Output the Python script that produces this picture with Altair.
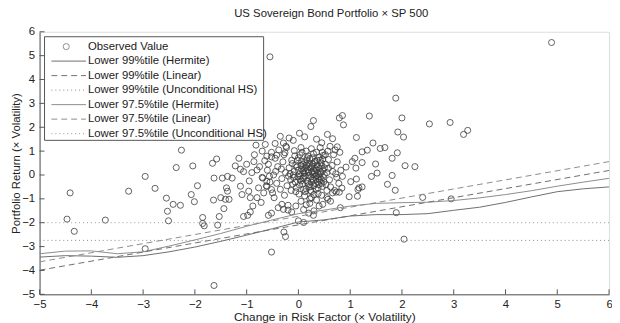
import altair as alt
import pandas as pd

# ---------------- data ----------------
observed = [
    # outer / right side
    (4.89, 5.55), (-0.55, 4.95), (2.53, 2.14), (2.93, 2.20), (3.19, 1.70), (3.27, 1.87),
    (2.25, 0.35), (2.04, -2.69), (2.40, -0.94), (2.95, -1.00), (1.89, -1.58), (1.72, -0.39),
    (1.87, -0.64), (0.81, -1.37), (0.29, -1.69), (0.10, -1.99), (0.00, -1.92), (1.15, -0.61),
    (1.23, -0.50), (0.98, -0.91), (0.79, -0.72), (0.73, -0.72),
    (1.88, 3.22), (2.00, 2.39), (1.92, 1.80), (2.03, 1.59), (1.37, 2.47), (0.85, 2.49),
    (0.79, 2.39), (0.87, 2.10), (0.29, 2.28), (0.24, 2.03), (1.12, 1.57), (0.56, 1.70),
    (0.66, 1.52), (0.75, 1.18), (1.44, 1.34), (1.58, 1.11), (1.67, 1.15), (1.33, 1.04),
    (1.23, 0.97), (1.91, 0.93), (1.81, 0.70), (1.49, 0.46), (2.06, 0.39), (1.09, 0.70),
    (1.04, 0.56), (1.23, 0.52), (1.11, 0.29), (0.92, 0.33), (1.52, 0.08), (1.41, -0.06),
    (1.81, -0.02), (1.12, -0.17), (1.01, -0.28), (0.85, -0.06), (1.17, -0.54), (1.14, -0.89),
    (0.66, -0.75), (0.22, -1.19), (0.47, -1.23), (0.57, -1.02),
    # left-centre
    (-0.82, 1.25), (-0.64, 1.28), (-0.45, 1.32), (-0.29, 1.34), (-0.10, 1.45), (-2.04, 0.38),
    (-2.28, -1.27), (-1.58, 0.67), (-1.66, 0.49), (-1.15, 0.70), (-1.22, 0.38), (-1.12, 0.24),
    (-1.06, 0.14), (-0.86, 0.56), (-0.80, 0.21), (-0.61, 0.79), (-0.52, 0.76), (-0.42, 0.83),
    (-0.26, 0.93), (-0.23, 1.15), (-1.63, -0.13), (-1.47, -0.13), (-1.37, -0.06), (-1.28, -0.13),
    (-1.95, -0.45), (-2.07, -0.82), (-2.01, -1.12), (-1.64, -1.05), (-1.50, -0.95), (-1.39, -0.54),
    (-1.37, -0.68), (-1.41, -1.02), (-1.34, -1.02), (-1.44, -1.41), (-1.53, -1.74), (-1.85, -1.78),
    (-1.85, -2.03), (-1.82, -2.13), (-1.56, -2.10), (-1.12, -0.47), (-1.09, -0.82), (-0.96, -0.68),
    (-0.93, -0.95), (-0.77, -0.54), (-0.67, -0.75), (-0.88, -1.30), (-0.98, -1.69), (-0.93, -1.55),
    (-0.58, -1.69), (-0.52, -1.60), (-0.39, -1.37), (-0.29, -1.44), (-0.20, -1.27), (-0.13, -1.55),
    (-0.28, -2.39), (-0.25, -2.58), (-0.69, -0.13), (-0.61, -0.27), (-0.61, -0.48), (-0.52, -0.61),
    (-1.63, -4.63), (-0.52, -3.23), (-1.06, -1.74), (-0.32, -1.23), (-0.20, -1.47),
    # far left
    (-4.41, -0.75), (-4.47, -1.85), (-4.33, -2.36), (-3.73, -1.89), (-3.28, -0.68), (-2.96, -0.06),
    (-2.77, -0.56), (-2.55, -0.97), (-2.53, -1.52), (-2.51, -1.92), (-2.42, -1.23), (-2.36, 0.31),
    (-2.26, 1.04), (-2.96, -3.09),
    # dense core
    (0.02, 0.05), (0.10, -0.12), (0.18, 0.22), (0.25, -0.30), (0.31, 0.10), (0.38, 0.35),
    (0.05, 0.40), (-0.08, 0.15), (-0.15, -0.20), (0.12, 0.55), (0.22, 0.68), (0.33, -0.05),
    (0.41, -0.22), (0.47, 0.18), (0.08, -0.38), (-0.04, -0.52), (0.15, -0.58), (0.28, 0.45),
    (0.36, 0.62), (-0.12, 0.48), (0.00, 0.72), (0.20, -0.02), (0.26, 0.12), (0.44, 0.50),
    (-0.18, 0.30), (0.06, 0.25), (0.14, 0.32), (0.30, -0.45), (0.39, -0.40), (0.48, -0.10),
    (-0.06, -0.30), (0.11, 0.08), (0.17, -0.25), (0.24, 0.30), (0.35, 0.20), (0.03, -0.18),
    (-0.10, 0.00), (0.42, 0.05), (0.50, 0.30), (0.19, 0.80), (0.29, 0.90), (0.07, 0.95),
    (-0.02, 0.60), (0.40, 0.75), (0.46, 0.95), (0.13, -0.70), (0.23, -0.65), (0.34, -0.60),
    (-0.14, -0.65), (0.01, -0.80), (0.27, -0.15), (0.09, 0.17), (0.16, 0.42), (0.32, 0.28),
    (-0.03, 0.33), (0.21, -0.40), (0.37, -0.28), (0.04, -0.05), (-0.09, -0.10), (0.45, -0.35),
    (0.00, 0.20), (0.05, -0.25), (0.09, 0.45), (0.13, -0.05), (0.16, 0.62), (0.19, 0.10),
    (0.22, -0.50), (0.26, 0.38), (0.29, -0.22), (0.32, 0.58), (0.35, -0.02), (0.38, -0.55),
    (0.41, 0.27), (0.44, -0.18), (0.47, 0.66), (0.50, 0.02), (0.02, -0.42), (0.06, 0.58),
    (0.10, -0.60), (0.14, 0.15), (0.18, -0.35), (0.21, 0.48), (0.24, -0.08), (0.27, 0.72),
    (0.30, 0.18), (0.33, -0.35), (0.36, 0.42), (0.40, -0.08), (0.43, 0.12), (0.46, -0.48),
    (-0.01, -0.08), (0.03, 0.85), (0.08, -0.15), (0.12, 0.28), (0.17, 0.72), (0.20, 0.35),
    (0.25, -0.70), (0.28, 0.02), (0.31, 0.52), (0.34, -0.18), (0.37, 0.08), (0.42, 0.62),
    (0.45, 0.38), (0.49, -0.28), (-0.05, 0.42), (-0.11, -0.38), (-0.16, 0.05), (-0.07, 0.80),
    (-0.13, 0.62), (-0.19, -0.05), (0.15, 1.00), (0.25, 1.10), (0.35, 0.95), (0.05, 1.15),
    (-0.08, 1.02), (0.42, 1.15), (0.52, 0.85), (0.55, -0.65), (0.12, -0.88), (0.30, -0.82),
    (-0.05, -0.70), (0.22, -1.00), (0.38, -0.78), (0.48, 0.82), (0.58, 0.28),
    # right of core
    (0.55, 0.10), (0.60, -0.20), (0.65, 0.40), (0.72, 0.05), (0.78, -0.35), (0.58, 0.65),
    (0.68, 0.85), (0.75, 0.55), (0.82, 0.20), (0.62, -0.50), (0.70, -0.65), (0.53, -0.40),
    (0.57, 1.00), (0.80, 0.95), (0.66, 0.15), (0.52, 0.45), (0.74, -0.10), (0.84, -0.55),
    (0.61, 1.20), (0.71, 1.05),
    # left of core
    (-0.25, 0.10), (-0.32, -0.15), (-0.40, 0.35), (-0.48, 0.00), (-0.55, -0.30), (-0.30, 0.55),
    (-0.45, 0.70), (-0.58, 0.45), (-0.22, -0.45), (-0.35, -0.60), (-0.50, -0.75), (-0.28, 0.85),
    (-0.38, 1.05), (-0.52, 0.95), (-0.42, -0.35), (-0.60, 0.20), (-0.27, -0.85), (-0.47, -0.95),
    (-0.33, 0.25), (-0.56, -0.05), (-0.24, 1.20), (-0.44, 0.15),
    # mid density ring
    (-0.75, 0.35), (-0.70, -0.10), (-0.90, 0.10), (-0.95, -0.25), (-0.80, -0.95), (-0.72, -1.15),
    (-0.65, 0.60), (-1.00, 0.45), (-0.85, 0.85), (-0.70, 1.00), (-0.62, -0.45),
    (0.05, -1.10), (0.15, -1.25), (0.25, -0.95), (0.35, -1.05), (0.45, -0.85), (0.10, -1.45),
    (-0.05, -1.30), (0.55, -0.95), (0.62, -1.10), (0.40, -1.30), (0.20, -1.60), (0.30, -1.50),
    (-0.35, 1.62), (0.02, 1.75), (-0.18, 1.55), (0.12, 1.60), (0.45, 1.35), (0.35, 1.50),
]

curve_x = [-5, -4.5, -4, -3.5, -3, -2.5, -2, -1.5, -1, -0.5, 0, 0.5,
           1, 1.5, 2, 2.5, 3, 3.5, 4, 4.5, 5, 5.5, 6]
hermite_99 = [-3.44, -3.38, -3.40, -3.45, -3.38, -3.22, -3.02, -2.78, -2.52, -2.25, -1.97, -1.88,
              -1.72, -1.66, -1.66, -1.62, -1.48, -1.35, -1.15, -0.92, -0.70, -0.58, -0.50]
hermite_975 = [-3.30, -3.19, -3.18, -3.30, -3.22, -2.98, -2.72, -2.45, -2.15, -1.88, -1.62, -1.47,
               -1.30, -1.19, -1.16, -1.14, -1.07, -0.96, -0.82, -0.66, -0.47, -0.30, -0.14]
linear_x = [-5, 6]
linear_99 = [-3.99, 0.19]
linear_975 = [-3.64, 0.56]
hs_99 = -2.74
hs_975 = -2.00

tick_values = list(range(-5, 7))

legend_labels = [
    "Observed Value",
    "Lower 99%tile (Hermite)",
    "Lower 99%tile (Linear)",
    "Lower 99%tile (Unconditional HS)",
    "Lower 97.5%tile (Hermite)",
    "Lower 97.5%tile (Linear)",
    "Lower 97.5%tile (Unconditional HS)",
]

# ---------------- styling ----------------
FONT = "Liberation Sans"
W, H = 577, 266
C99 = "#6e6e6e"
C975 = "#8c8c8c"
DASH = [6, 4]
DOT = [1, 3]

xs = alt.Scale(domain=[-5, 6], nice=False, zero=False)
ys = alt.Scale(domain=[-5, 6], nice=False, zero=False)

obs_df = pd.DataFrame(observed, columns=["x", "y"])

x_axis = alt.Axis(values=tick_values, tickSize=0, grid=False, labelFont=FONT, labelFontSize=11.5,
                  labelColor="#222", labelPadding=4, domainColor="#555", format="d",
                  labelOverlap=False, labelFlush=False,
                  title="Change in Risk Factor (\u00d7 Volatility)", titleFont=FONT,
                  titleFontSize=12, titleFontWeight="normal", titleColor="#222", titlePadding=2)
y_axis = alt.Axis(values=tick_values, tickSize=0, grid=False, labelFont=FONT, labelFontSize=11.5,
                  labelColor="#222", labelPadding=5, domainColor="#555", format="d",
                  labelOverlap=False, labelFlush=False, labelSeparation=0,
                  title="Portfolio Return (\u00d7 Volatility)", titleFont=FONT,
                  titleFontSize=11.5, titleFontWeight="normal", titleColor="#222",
                  titleX=-18, titleY=H / 2, titleAngle=270, titleBaseline="bottom",
                  titleAlign="center")

X = lambda f: alt.X(f, scale=xs, axis=x_axis)
Y = lambda f: alt.Y(f, scale=ys, axis=y_axis)

points = alt.Chart(obs_df).mark_point(
    shape="circle", filled=False, size=38, stroke="#3c3c3c", strokeWidth=0.8, opacity=1
).encode(x=X("x:Q"), y=Y("y:Q"))


def line_layer(xv, yv, color, dash=None):
    df = pd.DataFrame({"x": xv, "y": yv})
    kw = dict(color=color, strokeWidth=1, clip=True)
    if dash is not None:
        kw["strokeDash"] = dash
    return alt.Chart(df).mark_line(**kw).encode(x=X("x:Q"), y=Y("y:Q"))


lines = [
    line_layer(curve_x, hermite_99, C99),
    line_layer(curve_x, hermite_975, C975),
    line_layer(linear_x, linear_99, C99, DASH),
    line_layer(linear_x, linear_975, C975, DASH),
    line_layer([-5, 6], [hs_99, hs_99], "#888", DOT),
    line_layer([-5, 6], [hs_975, hs_975], "#999", DOT),
]

# inward (MATLAB style) ticks
tick_df = pd.DataFrame({"x": tick_values, "y": tick_values})
xticks = alt.Chart(tick_df).mark_rule(color="#555", strokeWidth=1).encode(
    x=X("x:Q"), y=alt.value(H), y2=alt.value(H - 5)
)
yticks = alt.Chart(tick_df).mark_rule(color="#555", strokeWidth=1).encode(
    y=Y("y:Q"), x=alt.value(0), x2=alt.value(5)
)

# legend (drawn manually inside the plot, pixel positions)
one = pd.DataFrame({"a": [0]})
row_y = [15 + 14.7 * i for i in range(7)]
leg_layers = [
    alt.Chart(one).mark_rect(fill="white", stroke="#555", strokeWidth=1).encode(
        x=alt.value(5), x2=alt.value(227), y=alt.value(5), y2=alt.value(110)
    )
]
for lab, ry in zip(legend_labels, row_y):
    leg_layers.append(
        alt.Chart(one).mark_text(align="left", baseline="middle", font=FONT, fontSize=11.5,
                                 color="#1a1a1a", text=lab)
        .encode(x=alt.value(49), y=alt.value(ry))
    )
leg_layers.append(
    alt.Chart(one).mark_point(shape="circle", filled=False, size=38, stroke="#3c3c3c",
                              strokeWidth=0.8).encode(x=alt.value(27), y=alt.value(row_y[0]))
)
styles = [(C99, None), (C99, DASH), ("#888", DOT), (C975, None), (C975, DASH), ("#999", DOT)]
for ry, (col, dash) in zip(row_y[1:], styles):
    kw = dict(color=col, strokeWidth=1)
    if dash is not None:
        kw["strokeDash"] = dash
    leg_layers.append(
        alt.Chart(one).mark_rule(**kw).encode(x=alt.value(12), x2=alt.value(47), y=alt.value(ry))
    )

chart = alt.layer(
    points, *lines, xticks, yticks, *leg_layers
).properties(
    width=W, height=H,
    title=alt.TitleParams("US Sovereign Bond Portfolio \u00d7 SP 500", font=FONT, fontSize=11.5,
                          fontWeight="normal", color="#222", anchor="middle", offset=6, dx=7),
    autosize=alt.AutoSizeParams(type="none"),
    padding={"left": 32, "top": 22, "right": 3, "bottom": 30},
).configure_view(strokeWidth=0).configure(background="white")

chart.save("out.html", embed_options={"renderer": "svg", "actions": False})
